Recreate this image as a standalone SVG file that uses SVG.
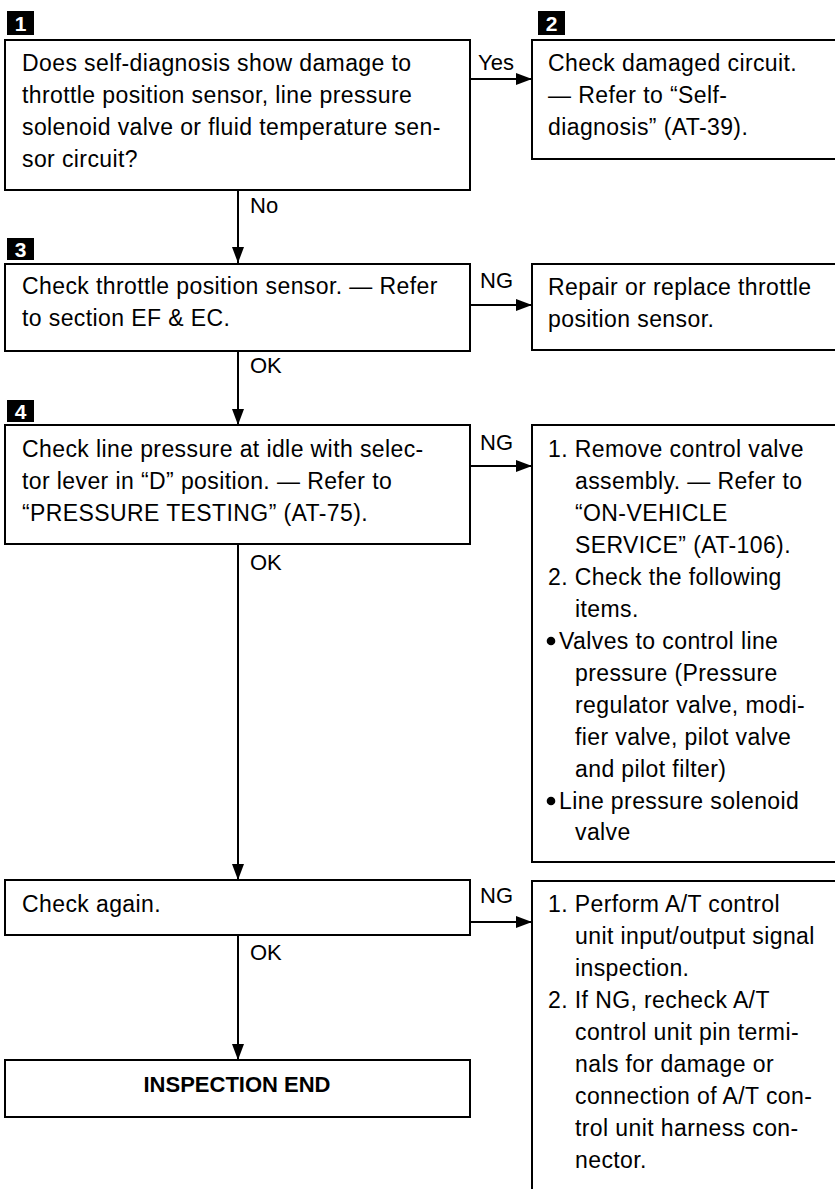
<svg xmlns="http://www.w3.org/2000/svg" width="835" height="1189" viewBox="0 0 835 1189">
<defs>
<marker id="arr" markerUnits="userSpaceOnUse" markerWidth="16" markerHeight="12" refX="16" refY="6" orient="auto">
<path d="M0,0 L16,6 L0,12 Z" fill="#000"/>
</marker>
<style>
.box{fill:#fff;stroke:#000;stroke-width:2}
.t{font-family:"Liberation Sans",Arial,sans-serif;font-size:23px;letter-spacing:0.4px;fill:#000}
.lbl{font-family:"Liberation Sans",Arial,sans-serif;font-size:22px;fill:#000}
.b{font-family:"Liberation Sans",Arial,sans-serif;font-size:22px;font-weight:bold;fill:#000}
.badge{fill:#000}
.num{font-family:"Liberation Sans",Arial,sans-serif;font-size:21px;font-weight:bold;fill:#fff}
.c{fill:none;stroke:#000;stroke-width:2;marker-end:url(#arr)}
</style>
</defs>
<rect width="835" height="1189" fill="#fff"/>

<g id="connectors">
<line class="c" x1="470" y1="79" x2="532" y2="79"/>
<line class="c" x1="238" y1="190" x2="238" y2="263"/>
<line class="c" x1="470" y1="305" x2="532" y2="305"/>
<line class="c" x1="238" y1="351" x2="238" y2="425"/>
<line class="c" x1="470" y1="466" x2="532" y2="466"/>
<line class="c" x1="238" y1="544" x2="238" y2="880"/>
<line class="c" x1="470" y1="922" x2="532" y2="922"/>
<line class="c" x1="238" y1="936" x2="238" y2="1060"/>
<text class="lbl" x="478" y="70">Yes</text>
<text class="lbl" x="250" y="213">No</text>
<text class="lbl" x="480" y="288">NG</text>
<text class="lbl" x="250" y="373">OK</text>
<text class="lbl" x="480" y="450">NG</text>
<text class="lbl" x="250" y="570">OK</text>
<text class="lbl" x="480" y="903">NG</text>
<text class="lbl" x="250" y="960">OK</text>
</g>

<g id="step1">
<rect class="badge" x="7" y="11" width="27" height="24"/>
<text class="num" x="20.5" y="31" text-anchor="middle">1</text>
<rect class="box" x="5" y="40" width="465" height="150"/>
<text class="t" x="22" y="71">Does self-diagnosis show damage to</text>
<text class="t" x="22" y="103">throttle position sensor, line pressure</text>
<text class="t" x="22" y="135">solenoid valve or fluid temperature sen-</text>
<text class="t" x="22" y="167">sor circuit?</text>
</g>

<g id="step2">
<rect class="badge" x="538" y="11" width="27" height="24"/>
<text class="num" x="551.5" y="31" text-anchor="middle">2</text>
<rect class="box" x="532" y="40" width="310" height="119"/>
<text class="t" x="548" y="71">Check damaged circuit.</text>
<text class="t" x="548" y="103">— Refer to “Self-</text>
<text class="t" x="548" y="135">diagnosis” (AT-39).</text>
</g>

<g id="step3">
<rect class="badge" x="7" y="238" width="27" height="22"/>
<text class="num" x="20.5" y="257" text-anchor="middle">3</text>
<rect class="box" x="5" y="264" width="465" height="87"/>
<text class="t" x="22" y="294">Check throttle position sensor. — Refer</text>
<text class="t" x="22" y="326">to section EF &amp; EC.</text>
</g>

<g id="repair-tps">
<rect class="box" x="532" y="264" width="310" height="86"/>
<text class="t" x="548" y="295">Repair or replace throttle</text>
<text class="t" x="548" y="327">position sensor.</text>
</g>

<g id="step4">
<rect class="badge" x="7" y="400" width="27" height="22"/>
<text class="num" x="20.5" y="419" text-anchor="middle">4</text>
<rect class="box" x="5" y="425" width="465" height="119"/>
<text class="t" x="22" y="457">Check line pressure at idle with selec-</text>
<text class="t" x="22" y="489">tor lever in “D” position. — Refer to</text>
<text class="t" x="22" y="521">“PRESSURE TESTING” (AT-75).</text>
</g>

<g id="control-valve">
<rect class="box" x="532" y="425" width="310" height="437"/>
<text class="t" x="548" y="457">1. Remove control valve</text>
<text class="t" x="575" y="489">assembly. — Refer to</text>
<text class="t" x="575" y="521">“ON-VEHICLE</text>
<text class="t" x="575" y="553">SERVICE” (AT-106).</text>
<text class="t" x="548" y="585">2. Check the following</text>
<text class="t" x="575" y="617">items.</text>
<circle cx="551" cy="641" r="4.3" fill="#000"/>
<text class="t" x="559" y="649">Valves to control line</text>
<text class="t" x="575" y="681">pressure (Pressure</text>
<text class="t" x="575" y="713">regulator valve, modi-</text>
<text class="t" x="575" y="745">fier valve, pilot valve</text>
<text class="t" x="575" y="777">and pilot filter)</text>
<circle cx="551" cy="801" r="4.3" fill="#000"/>
<text class="t" x="559" y="809">Line pressure solenoid</text>
<text class="t" x="575" y="840">valve</text>
</g>

<g id="check-again">
<rect class="box" x="5" y="880" width="465" height="55"/>
<text class="t" x="22" y="912">Check again.</text>
</g>

<g id="control-unit">
<rect class="box" x="532" y="881" width="310" height="320"/>
<text class="t" x="548" y="912">1. Perform A/T control</text>
<text class="t" x="575" y="944">unit input/output signal</text>
<text class="t" x="575" y="976">inspection.</text>
<text class="t" x="548" y="1008">2. If NG, recheck A/T</text>
<text class="t" x="575" y="1040">control unit pin termi-</text>
<text class="t" x="575" y="1072">nals for damage or</text>
<text class="t" x="575" y="1104">connection of A/T con-</text>
<text class="t" x="575" y="1136">trol unit harness con-</text>
<text class="t" x="575" y="1168">nector.</text>
</g>

<g id="end">
<rect class="box" x="5" y="1060" width="465" height="57"/>
<text class="b" x="237" y="1092" text-anchor="middle">INSPECTION END</text>
</g>
</svg>
